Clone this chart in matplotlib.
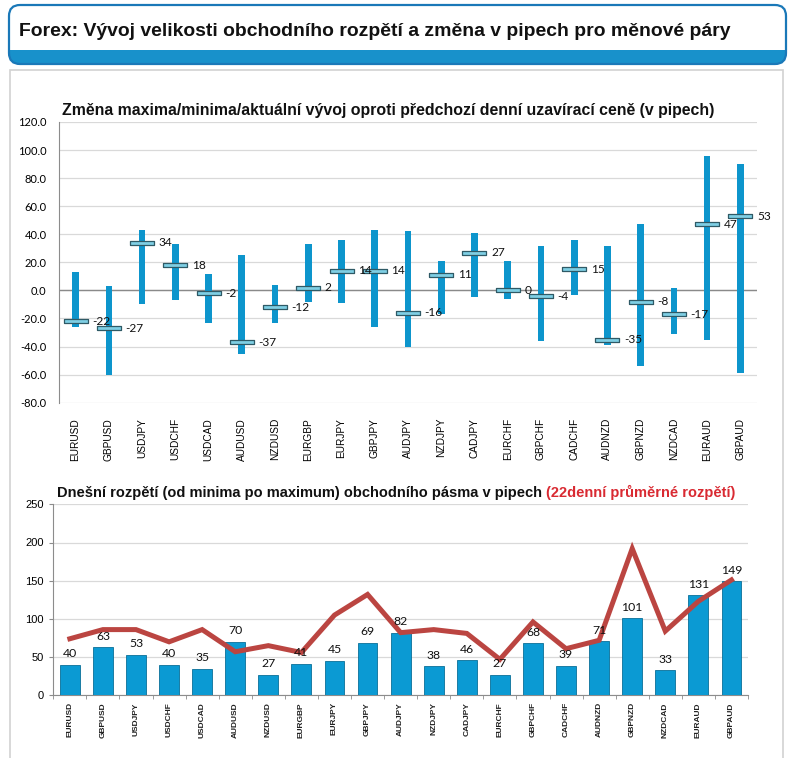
import matplotlib
matplotlib.use("Agg")
import matplotlib.pyplot as plt
from matplotlib.patches import FancyBboxPatch, Rectangle
from matplotlib import font_manager
import numpy as np

pairs = ["EURUSD", "GBPUSD", "USDJPY", "USDCHF", "USDCAD", "AUDUSD", "NZDUSD",
         "EURGBP", "EURJPY", "GBPJPY", "AUDJPY", "NZDJPY", "CADJPY", "EURCHF",
         "GBPCHF", "CADCHF", "AUDNZD", "GBPNZD", "NZDCAD", "EURAUD", "GBPAUD"]
high = [13, 3, 43, 33, 12, 25, 4, 33, 36, 43, 42, 21, 41, 21, 32, 36, 32, 47, 2, 96, 90]
low = [-26, -60, -10, -7, -23, -45, -23, -8, -9, -26, -40, -17, -5, -6, -36, -3, -39, -54, -31, -35, -59]
current = [-22, -27, 34, 18, -2, -37, -12, 2, 14, 14, -16, 11, 27, 0, -4, 15, -35, -8, -17, 47, 53]
today_range = [40, 63, 53, 40, 35, 70, 27, 41, 45, 69, 82, 38, 46, 27, 68, 39, 71, 101, 33, 131, 149]
avg22 = [74, 86, 86, 70, 86, 57, 65, 56, 105, 132, 82, 86, 81, 47, 96, 61, 72, 192, 84, 123, 151]

header_title = "Forex: Vývoj velikosti obchodního rozpětí a změna v pipech pro měnové páry"
top_title = "Změna maxima/minima/aktuální vývoj oproti předchozí denní uzavírací ceně (v pipech)"
bot_title_a = "Dnešní rozpětí (od minima po maximum) obchodního pásma v pipech "
bot_title_b = "(22denní průměrné rozpětí)"

W, H = 791, 758
fig = plt.figure(figsize=(W / 100, H / 100), dpi=100)
fig.patch.set_facecolor("white")

installed = {f.name for f in font_manager.fontManager.ttflist}
arial = ["Liberation Sans", "DejaVu Sans"]
narrow = (["Liberation Sans Narrow"] if "Liberation Sans Narrow" in installed else []) + arial
calib = ["Lato", "DejaVu Sans"]

# background / decoration axes in pixel coordinates
bg = fig.add_axes([0, 0, 1, 1], zorder=0)
bg.set_xlim(0, W)
bg.set_ylim(H, 0)
bg.axis("off")

hdr = FancyBboxPatch((9, 5), 777, 59, boxstyle="round,pad=0,rounding_size=11",
                     facecolor="#1891cb", edgecolor="none")
bg.add_patch(hdr)
white_top = Rectangle((9, 5), 777, 45, facecolor="white", edgecolor="none")
bg.add_patch(white_top)
white_top.set_clip_path(hdr)
bg.add_patch(FancyBboxPatch((9, 5), 777, 59, boxstyle="round,pad=0,rounding_size=11",
                            facecolor="none", edgecolor="#1a78b8", lw=1.6))
# panel
bg.add_patch(Rectangle((10, 70), 773, 700, facecolor="white", edgecolor="#d2d2d2", lw=1.2))

t_hdr = bg.text(19, 31, header_title, fontsize=14, fontweight="bold", family=narrow,
                va="center", ha="left", color="#111111")
t_top = bg.text(62, 110, top_title, fontsize=10, fontweight="bold", family=narrow,
                va="center", ha="left", color="#111111")
t_b1 = bg.text(57, 493, bot_title_a, fontsize=10, fontweight="bold", family=arial,
               va="center", ha="left", color="#111111")

fig.canvas.draw()
r = fig.canvas.get_renderer()


def fit(t, target):
    w = t.get_window_extent(r).width
    t.set_fontsize(t.get_fontsize() * target / w)


fit(t_hdr, 711)
fit(t_top, 650)

# ---------------- top chart ----------------
x = np.arange(len(pairs))
ax1 = fig.add_axes([59 / W, 1 - 402.7 / H, 698 / W, 280.7 / H], zorder=2)
ax1.set_xlim(-0.5, len(pairs) - 0.5)
ax1.set_ylim(-80, 120)
ax1.set_yticks(np.arange(-80, 121, 20))
ax1.set_yticklabels([f"{v:.1f}" for v in np.arange(-80, 121, 20)], family=calib, fontsize=8.0)
ax1.grid(axis="y", color="#d9d9d9", lw=0.9)
ax1.set_axisbelow(True)
for s in ["top", "right", "bottom"]:
    ax1.spines[s].set_visible(False)
ax1.spines["left"].set_color("#8c8c8c")
ax1.axhline(0, color="#8a8a8a", lw=1.0, zorder=1)
ax1.tick_params(axis="y", length=0, pad=9)
ax1.tick_params(axis="x", length=0, pad=11)
ax1.set_xticks(x)
ax1.set_xticklabels(pairs, rotation=90, family=narrow, fontsize=7.3, va="top")

hi = np.array(high)
lo = np.array(low)
ax1.bar(x, hi - lo, bottom=lo, width=0.2, color="#0d95cc", zorder=3)
marker = [(-1, -0.17), (1, -0.17), (1, 0.17), (-1, 0.17), (-1, -0.17)]
ax1.plot(x, current, ls="none", marker=marker, ms=17.5, mfc="#7fcfe4", mec="#2f5a66",
         mew=0.9, zorder=4)
hl = [(-0.9, 0.05), (0.9, 0.05), (0.9, 0.1), (-0.9, 0.1), (-0.9, 0.05)]
ax1.plot(x, current, ls="none", marker=hl, ms=15.5, mfc="#d8f3fb", mec="none", zorder=4.5)
for xi, c in zip(x, current):
    ax1.text(xi + 0.5, c, f"{c}", va="center", ha="left", family=calib, fontsize=8.6,
             color="#111111", zorder=5)

# ---------------- bottom chart ----------------
ax2 = fig.add_axes([53.3 / W, 1 - 695.3 / H, 694.7 / W, 191 / H], zorder=2)
ax2.set_xlim(-0.5, len(pairs) - 0.5)
ax2.set_ylim(0, 250)
ax2.set_yticks(np.arange(0, 251, 50))
ax2.tick_params(axis="y", labelsize=8.0, length=3, pad=4, color="#8c8c8c")
for lab in ax2.get_yticklabels():
    lab.set_family(arial)
ax2.grid(axis="y", color="#d9d9d9", lw=0.9)
ax2.set_axisbelow(True)
for s in ["top", "right"]:
    ax2.spines[s].set_visible(False)
for s in ["left", "bottom"]:
    ax2.spines[s].set_color("#8c8c8c")
ax2.set_xticks(x)
ax2.set_xticklabels(pairs, rotation=90, family=arial, fontsize=6.0, fontweight="bold",
                    va="top", color="#222222")
ax2.set_xticks(np.arange(-0.5, len(pairs), 1), minor=True)
ax2.tick_params(axis="x", which="major", length=0, pad=5)
ax2.tick_params(axis="x", which="minor", length=3, color="#8c8c8c")

ax2.bar(x, today_range, width=0.6, color="#0b9ad3", edgecolor="#0a6f98", lw=0.6, zorder=3)
ax2.plot(x, avg22, color="#bb4541", lw=3.6, zorder=4, solid_joinstyle="miter")
for xi, v in zip(x, today_range):
    ax2.annotate(f"{v}", (xi, v), xytext=(0, 4), textcoords="offset points",
                 ha="center", va="bottom", family=calib, fontsize=8.8, color="#111111",
                 zorder=5)

# bottom title (two colours)
t_b2 = bg.annotate(bot_title_b, xy=(1, 0), xycoords=t_b1, ha="left", va="bottom",
                   fontsize=10, fontweight="bold", family=arial, color="#d92a32")
fig.canvas.draw()
wtot = t_b1.get_window_extent(r).width + t_b2.get_window_extent(r).width
sc = 678 / wtot
t_b1.set_fontsize(t_b1.get_fontsize() * sc)
t_b2.set_fontsize(t_b2.get_fontsize() * sc)

fig.savefig("out.png", dpi=100, facecolor="white")
